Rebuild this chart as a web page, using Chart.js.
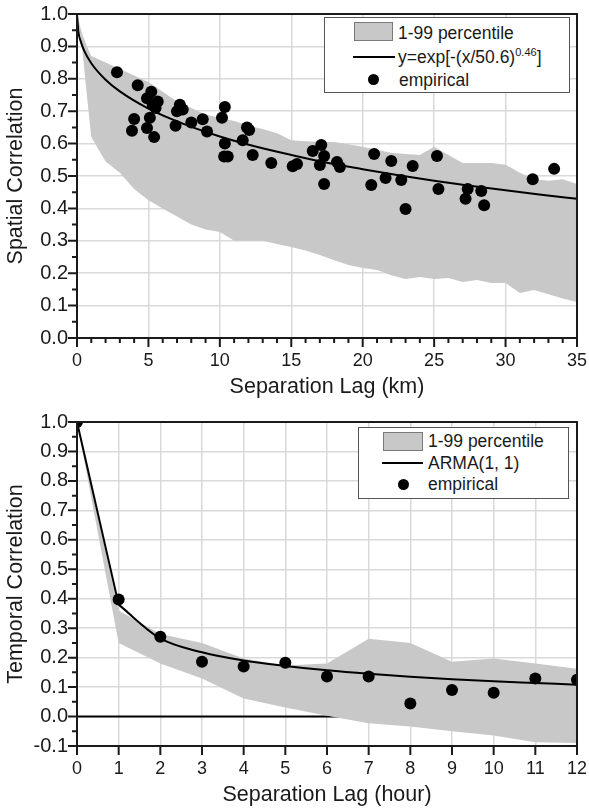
<!DOCTYPE html>
<html>
<head>
<meta charset="utf-8">
<script src="https://cdn.jsdelivr.net/npm/chart.js@4.4.1/dist/chart.umd.min.js"></script>
<style>
  html, body { margin: 0; padding: 0; background: #fff; }
  body { width: 589px; height: 811px; position: relative; overflow: hidden; font-family: "Liberation Sans", Arial, sans-serif; color: #1a1a1a; }
  .panel { position: absolute; left: 0; }
  .legend { position: absolute; box-sizing: border-box; background: #fff; border: 1px solid #555; }
  .legend span { position: absolute; }
  .swatch { background: #c8c8c8; border: 1px solid #7a7a7a; box-sizing: border-box; }
  .lline { height: 2px; background: #000; }
  .ldot { width: 11px; height: 11px; border-radius: 50%; background: #000; }
  .txt { font-size: 17.5px; line-height: 22px; white-space: nowrap; }
  .txt sup { font-size: 11px; line-height: 0; vertical-align: 7px; }
</style>
</head>
<body>
<div class="panel" style="top:0;width:589px;height:406px"><canvas id="spatialChart" width="589" height="406"></canvas></div>
<div class="panel" style="top:406px;width:589px;height:405px"><canvas id="temporalChart" width="589" height="405"></canvas></div>

<div class="legend" style="left:324px;top:17px;width:246px;height:76px">
  <span class="swatch" style="left:29px;top:4px;width:39px;height:19px"></span>
  <span class="txt" style="left:73px;top:4px">1-99 percentile</span>
  <span class="lline" style="left:28px;top:38px;width:42px"></span>
  <span class="txt" style="left:73px;top:28px">y=exp[-(x/50.6)<sup>0.46</sup>]</span>
  <span class="ldot" style="left:43px;top:56px"></span>
  <span class="txt" style="left:74px;top:51px">empirical</span>
</div>

<div class="legend" style="left:358px;top:427px;width:211px;height:72px">
  <span class="swatch" style="left:24px;top:4px;width:40px;height:19px"></span>
  <span class="txt" style="left:69px;top:2px">1-99 percentile</span>
  <span class="lline" style="left:23px;top:34px;width:41px"></span>
  <span class="txt" style="left:69px;top:24px">ARMA(1, 1)</span>
  <span class="ldot" style="left:39px;top:51px"></span>
  <span class="txt" style="left:69px;top:45px">empirical</span>
</div>

<script>
// ---- spatial correlation (top) ----
const spatialLagKm = [2.8, 3.85, 4.0, 4.25, 4.9, 4.9, 5.1, 5.2, 5.3, 5.4, 5.5, 5.65, 6.9, 7.0, 7.2, 7.4, 8.0, 8.8, 9.1,
  10.15, 10.35, 10.35, 10.3, 10.55, 11.6, 11.9, 12.05, 12.3, 13.6, 15.1, 15.4, 16.5, 17.1, 17.3, 17.0, 17.3,
  18.2, 18.4, 20.8, 20.6, 21.6, 22.0, 22.7, 23.0, 23.5, 25.2, 25.3, 27.2, 27.35, 28.3, 28.5, 31.9, 33.4];
const spatialCorr = [0.82, 0.64, 0.676, 0.78, 0.74, 0.648, 0.68, 0.76, 0.72, 0.62, 0.71, 0.73, 0.655, 0.70, 0.72, 0.705, 0.665, 0.675, 0.637,
  0.68, 0.713, 0.60, 0.56, 0.56, 0.61, 0.65, 0.642, 0.565, 0.54, 0.53, 0.537, 0.577, 0.596, 0.562, 0.534, 0.475,
  0.543, 0.528, 0.568, 0.472, 0.494, 0.546, 0.488, 0.398, 0.531, 0.562, 0.46, 0.43, 0.46, 0.454, 0.41, 0.49, 0.522];

const fitLagKm = [0, 0.1, 0.25, 0.5, 1, 2, 3, 5, 7.5, 10, 12.5, 15, 17.5, 20, 22.5, 25, 27.5, 30, 32.5, 35];
const fitCorr = [1.0, 0.945, 0.917, 0.887, 0.848, 0.797, 0.761, 0.708, 0.660, 0.622, 0.591, 0.565, 0.541, 0.521, 0.502, 0.485, 0.470, 0.456, 0.442, 0.430];

const spatialBandX = [0, 0.35, 0.7, 1, 2, 3, 4, 5, 6, 7, 8, 9, 10, 11, 12, 13, 14, 15, 16, 17, 18,
  19, 20, 21, 22, 23, 24, 25, 26, 27, 28, 29, 30, 31, 32, 33, 34, 35];
const spatialP99 = [1.0, 0.94, 0.90, 0.87, 0.85, 0.83, 0.81, 0.79, 0.76, 0.73, 0.71, 0.69, 0.68, 0.67, 0.655, 0.645, 0.632, 0.61, 0.607, 0.606, 0.605,
  0.598, 0.59, 0.58, 0.572, 0.568, 0.565, 0.59, 0.565, 0.54, 0.54, 0.54, 0.535, 0.51, 0.49, 0.485, 0.49, 0.475];
const spatialP01 = [1.0, 0.90, 0.745, 0.62, 0.545, 0.51, 0.46, 0.425, 0.40, 0.375, 0.35, 0.335, 0.327, 0.30, 0.30, 0.30, 0.29, 0.281, 0.27, 0.256, 0.24,
  0.225, 0.216, 0.21, 0.194, 0.182, 0.188, 0.182, 0.185, 0.173, 0.179, 0.17, 0.17, 0.139, 0.148, 0.135, 0.122, 0.111];

// ---- temporal correlation (bottom) ----
const lagHour = [0, 1, 2, 3, 4, 5, 6, 7, 8, 9, 10, 11, 12];
const temporalCorr = [1.0, 0.397, 0.271, 0.186, 0.17, 0.183, 0.136, 0.136, 0.044, 0.09, 0.081, 0.129, 0.125];
const armaCorr = [1.0, 0.38, 0.265, 0.218, 0.19, 0.172, 0.157, 0.145, 0.135, 0.127, 0.12, 0.114, 0.108];
const temporalP99 = [1.0, 0.36, 0.28, 0.25, 0.197, 0.173, 0.18, 0.264, 0.25, 0.186, 0.197, 0.18, 0.162];
const temporalP01 = [1.0, 0.25, 0.18, 0.129, 0.061, 0.031, 0.003, -0.023, -0.034, -0.05, -0.064, -0.087, -0.09];
const zeroLineX = [0, 12];

const FONT = '"Liberation Sans", Arial, sans-serif';
const INK = '#1a1a1a';
const BAND = '#c8c8c8';
Chart.defaults.font.family = FONT;
Chart.defaults.color = INK;

const toXY = (xs, ys) => xs.map((x, i) => ({ x, y: ys[i] }));

// frame + major/minor tick marks, drawn over the data like the original
const axisFrame = {
  id: 'axisFrame',
  afterDatasetsDraw(chart, args, opts) {
    const { ctx, chartArea: a } = chart;
    const xs = chart.scales.x, ys = chart.scales.y;
    ctx.save();
    ctx.strokeStyle = INK;
    ctx.lineWidth = 2;
    ctx.strokeRect(a.left, a.top, a.right - a.left, a.bottom - a.top);
    ctx.beginPath();
    const nx = Math.round((xs.max - xs.min) / opts.xMinor);
    for (let i = 0; i <= nx; i++) {
      const v = xs.min + i * opts.xMinor;
      const major = Math.abs(v / opts.xMajor - Math.round(v / opts.xMajor)) < 1e-6;
      const px = xs.getPixelForValue(v);
      ctx.moveTo(px, a.bottom);
      ctx.lineTo(px, a.bottom + (major ? 9 : 5));
    }
    const ny = Math.round((ys.max - ys.min) / opts.yMinor);
    for (let i = 0; i <= ny; i++) {
      const v = ys.min + i * opts.yMinor;
      const major = Math.abs(v / opts.yMajor - Math.round(v / opts.yMajor)) < 1e-6;
      const py = ys.getPixelForValue(v);
      ctx.moveTo(a.left, py);
      ctx.lineTo(a.left - (major ? 9 : 5), py);
    }
    ctx.stroke();
    ctx.restore();
  }
};

function fmtTick(v) {
  return Math.abs(v) < 1e-9 ? '0.0' : Number(v).toFixed(1);
}

function makeScales(opt) {
  return {
    x: {
      type: 'linear', min: opt.xMin, max: opt.xMax,
      afterFit: s => { s.height = opt.xHeight; },
      ticks: { stepSize: opt.xStep, padding: 2, maxRotation: 0, autoSkip: false, color: INK, font: { size: 18 } },
      grid: { color: '#d9d9d9', lineWidth: 1.5, tickLength: 10, tickColor: 'rgba(0,0,0,0)' },
      border: { display: false },
      title: { display: true, text: opt.xTitle, color: INK, font: { size: 21.5 }, padding: { top: 0, bottom: opt.xTitlePad } }
    },
    y: {
      min: opt.yMin, max: opt.yMax,
      afterFit: s => { s.width = 77; },
      ticks: { stepSize: 0.1, padding: 1, autoSkip: false, color: INK, font: { size: 20 }, callback: fmtTick },
      grid: { color: '#d9d9d9', lineWidth: 1.5, tickLength: 8, tickColor: 'rgba(0,0,0,0)' },
      border: { display: false },
      title: { display: true, text: opt.yTitle, color: INK, font: { size: 21.5 }, padding: { top: 3, bottom: 0 } }
    }
  };
}

const pointStyle = { showLine: false, pointRadius: 6, pointHoverRadius: 6, pointBorderWidth: 0, pointBackgroundColor: '#000', pointBorderColor: '#000' };
const bandEdge = { borderColor: 'rgba(0,0,0,0)', borderWidth: 1, pointRadius: 0, tension: 0 };

new Chart(document.getElementById('spatialChart'), {
  type: 'line',
  data: {
    datasets: [
      Object.assign({ label: 'empirical', data: toXY(spatialLagKm, spatialCorr), order: 0 }, pointStyle),
      { label: 'fit', data: toXY(fitLagKm, fitCorr), borderColor: '#000', borderWidth: 2, pointRadius: 0, cubicInterpolationMode: 'monotone', order: 1 },
      Object.assign({ label: '1-99 percentile', data: toXY(spatialBandX, spatialP99), fill: '+1', backgroundColor: BAND, order: 2 }, bandEdge),
      Object.assign({ label: 'p01', data: toXY(spatialBandX, spatialP01), fill: false, order: 2 }, bandEdge)
    ]
  },
  options: {
    responsive: false, animation: false, events: [],
    layout: { padding: { left: 0, right: 11, top: 14, bottom: 0 } },
    scales: makeScales({ xMin: 0, xMax: 35, xStep: 5, xHeight: 68, xTitle: 'Separation Lag (km)', xTitlePad: 6,
      yMin: 0, yMax: 1, yTitle: 'Spatial Correlation' }),
    plugins: {
      legend: { display: false }, tooltip: { enabled: false },
      axisFrame: { xMajor: 5, xMinor: 1, yMajor: 0.1, yMinor: 0.05 }
    }
  },
  plugins: [axisFrame]
});

new Chart(document.getElementById('temporalChart'), {
  type: 'line',
  data: {
    datasets: [
      Object.assign({ label: 'empirical', data: toXY(lagHour, temporalCorr), order: 0 }, pointStyle),
      // ARMA: straight drop to lag 1, smooth decay afterwards
      { label: 'ARMA head', data: toXY(lagHour.slice(0, 2), armaCorr.slice(0, 2)), borderColor: '#000', borderWidth: 2, pointRadius: 0, order: 1 },
      { label: 'ARMA(1, 1)', data: toXY(lagHour.slice(1), armaCorr.slice(1)), borderColor: '#000', borderWidth: 2, pointRadius: 0, cubicInterpolationMode: 'monotone', order: 1 },
      Object.assign({ label: '1-99 percentile', data: toXY(lagHour, temporalP99), fill: '+1', backgroundColor: BAND, order: 2 }, bandEdge),
      Object.assign({ label: 'p01', data: toXY(lagHour, temporalP01), fill: false, order: 2 }, bandEdge),
      { label: 'zero', data: toXY(zeroLineX, zeroLineX.map(() => 0)), borderColor: '#000', borderWidth: 2, pointRadius: 0, order: 3 }
    ]
  },
  options: {
    responsive: false, animation: false, events: [],
    layout: { padding: { left: 0, right: 11, top: 16, bottom: 0 } },
    scales: makeScales({ xMin: 0, xMax: 12, xStep: 1, xHeight: 65, xTitle: 'Separation Lag (hour)', xTitlePad: 3,
      yMin: -0.1, yMax: 1, yTitle: 'Temporal Correlation' }),
    plugins: {
      legend: { display: false }, tooltip: { enabled: false },
      axisFrame: { xMajor: 1, xMinor: 1, yMajor: 0.1, yMinor: 0.05 }
    }
  },
  plugins: [axisFrame]
});
</script>
</body>
</html>
